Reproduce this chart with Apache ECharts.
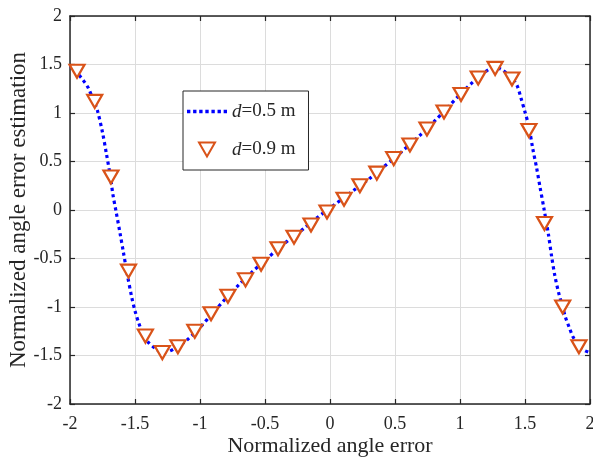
<!DOCTYPE html>
<html>
<head>
<meta charset="utf-8">
<script src="https://cdn.jsdelivr.net/npm/echarts@6/dist/echarts.min.js"></script>
<style>
  html, body { margin: 0; padding: 0; background: #fff; }
  #chart { width: 593px; height: 461px; }
</style>
</head>
<body>
<div id="chart"></div>
<script>
// d=0.5 m curve (dotted line)
var lineX = [-2.00, -1.95, -1.90, -1.86, -1.82, -1.79, -1.75, -1.72, -1.69, -1.67,
  -1.645, -1.615, -1.59, -1.56, -1.525, -1.50, -1.47, -1.44, -1.40, -1.35,
  -1.30, -1.25, -1.20, -1.10, -1.00, -0.90, -0.80, -0.70, -0.60, -0.50,
  -0.40, -0.30, -0.20, -0.10, 0.00, 0.10, 0.20, 0.30, 0.40, 0.50,
  0.60, 0.70, 0.80, 0.90, 1.00, 1.10, 1.20, 1.27, 1.33, 1.40,
  1.44, 1.47, 1.50, 1.53, 1.56, 1.59, 1.615, 1.645, 1.68, 1.705,
  1.73, 1.76, 1.79, 1.81, 1.84, 1.87, 1.92, 1.96, 2.00];
var lineY = [1.49, 1.42, 1.34, 1.26, 1.13, 1.03, 0.80, 0.58, 0.35, 0.16,
  -0.02, -0.24, -0.43, -0.66, -0.90, -1.04, -1.17, -1.27, -1.36, -1.42,
  -1.46, -1.46, -1.43, -1.34, -1.21, -1.06, -0.91, -0.77, -0.64, -0.52,
  -0.40, -0.29, -0.19, -0.08, 0.02, 0.12, 0.22, 0.32, 0.43, 0.54,
  0.66, 0.78, 0.91, 1.05, 1.19, 1.32, 1.43, 1.47, 1.44, 1.36,
  1.28, 1.15, 1.01, 0.86, 0.63, 0.43, 0.24, 0.02, -0.25, -0.48,
  -0.68, -0.86, -1.00, -1.10, -1.21, -1.31, -1.41, -1.45, -1.47];

// d=0.9 m markers
var markX = [-1.946, -1.81, -1.685, -1.55, -1.42, -1.29, -1.17, -1.04, -0.915, -0.785,
  -0.65, -0.53, -0.40, -0.277, -0.146, -0.023, 0.108, 0.23, 0.36, 0.49,
  0.615, 0.746, 0.877, 1.008, 1.14, 1.27, 1.40, 1.53, 1.65, 1.79, 1.915];
var markY = [1.43, 1.12, 0.34, -0.63, -1.30, -1.47, -1.41, -1.25, -1.07, -0.89,
  -0.72, -0.56, -0.40, -0.28, -0.155, -0.02, 0.11, 0.25, 0.38, 0.53,
  0.67, 0.835, 1.01, 1.19, 1.36, 1.46, 1.35, 0.82, -0.14, -1.00, -1.41];

var seriesNames = ['d=0.5 m', 'd=0.9 m'];

var lineData = lineX.map(function (x, i) { return [x, lineY[i]]; });
var markData = markX.map(function (x, i) { return [x, markY[i]]; });

var font = '"Liberation Serif", "Times New Roman", serif';
var ink = '#262626';

// dotted legend sample: 7 small squares
var dotIcon = 'path://';
for (var k = 0; k < 7; k++) {
  dotIcon += 'M' + (k * 6) + ',0h3.3v3.3h-3.3z';
}

var chart = echarts.init(document.getElementById('chart'));

function boxAxis(pos) {
  return {
    type: 'value',
    position: pos,
    min: -2,
    max: 2,
    interval: 0.5,
    axisLine: { show: true, onZero: false, lineStyle: { color: ink, width: 1.5 } },
    axisTick: { show: true, inside: true, length: 5, lineStyle: { color: ink, width: 1.2 } },
    axisLabel: { show: false },
    splitLine: { show: false }
  };
}

var option = {
  animation: false,
  backgroundColor: '#fff',
  grid: { left: 70, right: 3, top: 16, bottom: 57, containLabel: false, outerBoundsMode: 'none' },
  xAxis: [
    {
      type: 'value',
      position: 'bottom',
      min: -2,
      max: 2,
      interval: 0.5,
      name: 'Normalized angle error',
      nameLocation: 'middle',
      nameGap: 31,
      nameMoveOverlap: false,
      nameTextStyle: { fontFamily: font, fontSize: 22, color: ink },
      axisLine: { show: true, onZero: false, lineStyle: { color: ink, width: 1.5 } },
      axisTick: { show: true, inside: true, length: 5, lineStyle: { color: ink, width: 1.2 } },
      axisLabel: { fontFamily: font, fontSize: 18, color: ink, margin: 11 },
      splitLine: { show: true, lineStyle: { color: '#dcdcdc', width: 1 } }
    },
    boxAxis('top')
  ],
  yAxis: [
    {
      type: 'value',
      position: 'left',
      min: -2,
      max: 2,
      interval: 0.5,
      name: 'Normalized angle error estimation',
      nameLocation: 'middle',
      nameGap: 40,
      nameMoveOverlap: false,
      nameTextStyle: { fontFamily: font, fontSize: 23, color: ink },
      axisLine: { show: true, onZero: false, lineStyle: { color: ink, width: 1.5 } },
      axisTick: { show: true, inside: true, length: 5, lineStyle: { color: ink, width: 1.2 } },
      axisLabel: { fontFamily: font, fontSize: 18, color: ink, margin: 8 },
      splitLine: { show: true, lineStyle: { color: '#dcdcdc', width: 1 } }
    },
    boxAxis('right')
  ],
  legend: {
    orient: 'vertical',
    left: 183,
    top: 91,
    padding: [11, 13, 11, 4],
    itemGap: 19,
    itemWidth: 40,
    itemHeight: 14,
    backgroundColor: '#fff',
    borderColor: ink,
    borderWidth: 1,
    borderRadius: 0,
    data: [
      { name: seriesNames[0], icon: dotIcon },
      { name: seriesNames[1], icon: 'path://M0,0 L16,0 L8,14 Z' }
    ],
    formatter: function (name) {
      return '{i|d}' + name.slice(1);
    },
    textStyle: {
      fontFamily: font,
      fontSize: 19,
      color: ink,
      lineHeight: 19,
      rich: {
        i: { fontFamily: font, fontSize: 19, fontStyle: 'italic', color: ink }
      }
    }
  },
  series: [
    {
      name: seriesNames[0],
      type: 'line',
      data: lineData,
      showSymbol: false,
      symbol: 'none',
      smooth: 0.3,
      clip: true,
      lineStyle: { color: '#0000ff', width: 3.2, type: [3.2, 3.4], cap: 'butt' },
      itemStyle: { color: '#0000ff' },
      z: 3
    },
    {
      name: seriesNames[1],
      type: 'scatter',
      data: markData,
      symbol: 'triangle',
      symbolRotate: 180,
      symbolSize: [15, 13],
      itemStyle: { color: '#ffffff', borderColor: '#d95319', borderWidth: 2.2, opacity: 1 },
      z: 4
    }
  ]
};

chart.setOption(option);
</script>
</body>
</html>
